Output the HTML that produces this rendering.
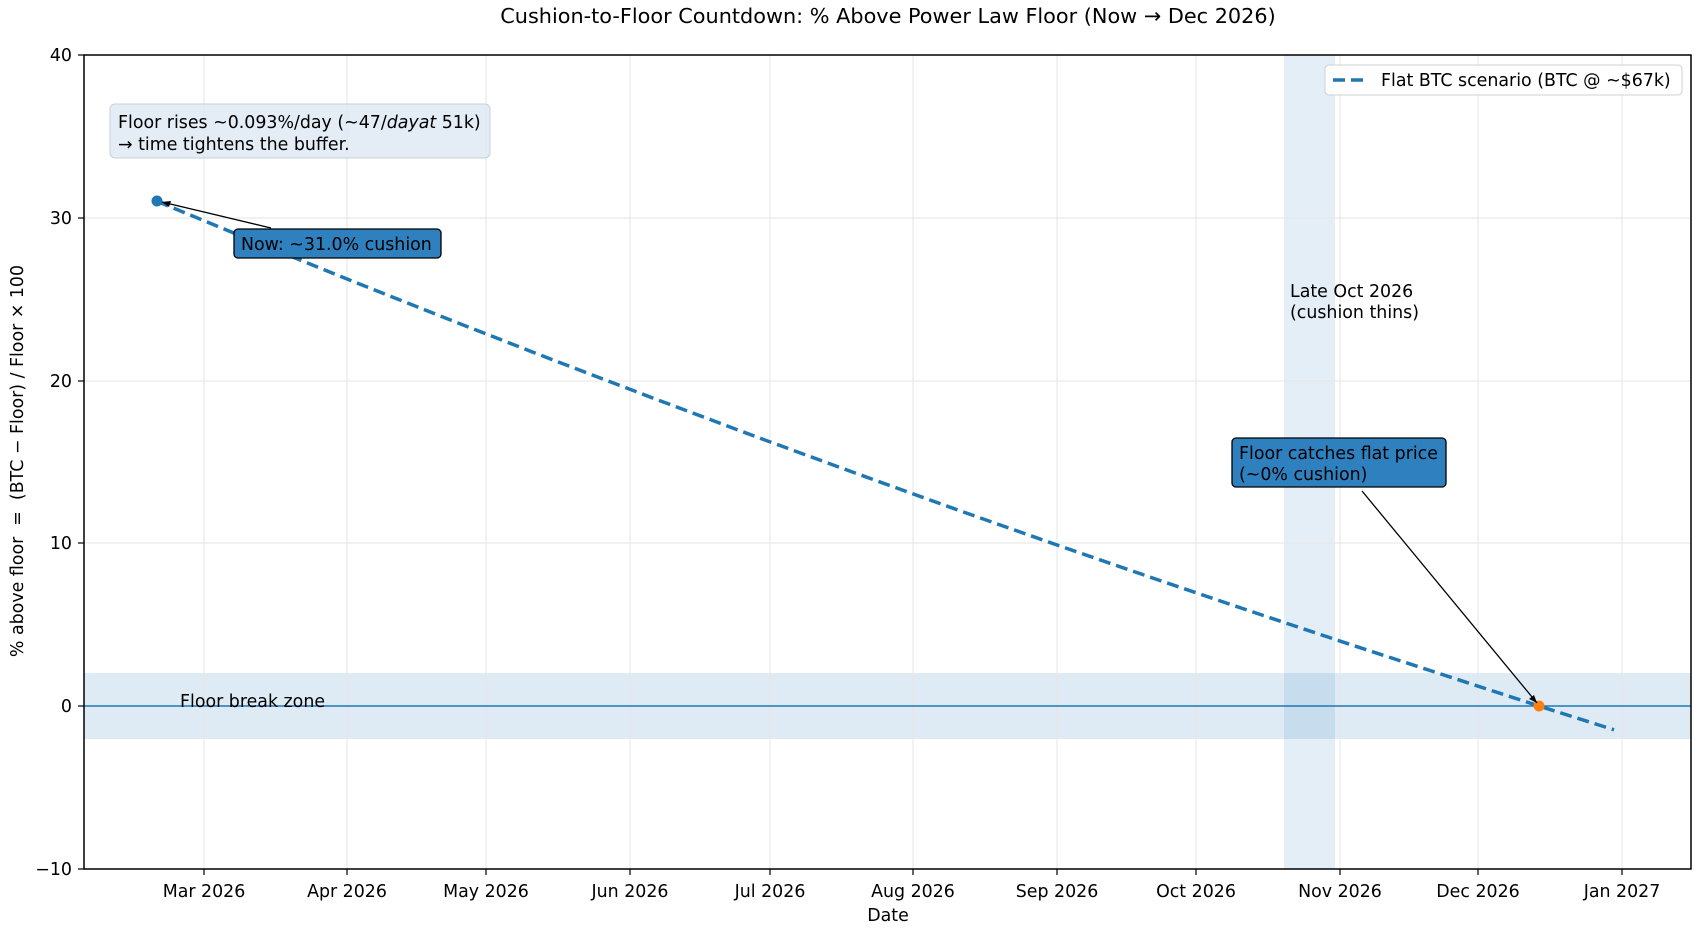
<!DOCTYPE html>
<html><head><meta charset="utf-8"><style>
html,body{margin:0;padding:0;background:#fff;}
svg text{font-family:"DejaVu Sans","Liberation Sans",sans-serif;fill:#000;}
</style></head><body>
<svg width="1702" height="935" viewBox="0 0 1702 935" xmlns="http://www.w3.org/2000/svg">
<rect width="1702" height="935" fill="#fff"/>
<text x="888" y="23" font-size="20.8" text-anchor="middle">Cushion-to-Floor Countdown: % Above Power Law Floor (Now → Dec 2026)</text>
<rect x="1284" y="55" width="51" height="814" fill="#1f77b4" fill-opacity="0.12"/>
<rect x="84" y="673" width="1607" height="66" fill="#1f77b4" fill-opacity="0.15"/>
<g stroke="#e6e6e6" stroke-width="1">
<line x1="204" y1="55" x2="204" y2="869"/><line x1="347" y1="55" x2="347" y2="869"/>
<line x1="486" y1="55" x2="486" y2="869"/><line x1="630" y1="55" x2="630" y2="869"/>
<line x1="770" y1="55" x2="770" y2="869"/><line x1="913" y1="55" x2="913" y2="869"/>
<line x1="1057" y1="55" x2="1057" y2="869"/><line x1="1196" y1="55" x2="1196" y2="869"/>
<line x1="1340" y1="55" x2="1340" y2="869"/><line x1="1478" y1="55" x2="1478" y2="869"/>
<line x1="1622" y1="55" x2="1622" y2="869"/>
<line x1="84" y1="218" x2="1691" y2="218"/><line x1="84" y1="381" x2="1691" y2="381"/>
<line x1="84" y1="543" x2="1691" y2="543"/>
</g>
<line x1="84" y1="706" x2="1691" y2="706" stroke="#1f77b4" stroke-width="1.5"/>
<polyline fill="none" stroke="#1f77b4" stroke-width="3.5" stroke-dasharray="12,6"
 points="157,201.3 257,242.6 357,283.0 457,322.6 557,361.5 657,399.6 757,437.1 857,473.7 957,509.7 1057,545.0 1157,579.5 1257,613.4 1357,646.7 1457,679.3 1539,706 1614,729.8"/>
<circle cx="157" cy="201" r="5.5" fill="#1f77b4"/>
<circle cx="1539" cy="706" r="5.5" fill="#ff7f0e"/>
<rect x="84" y="55" width="1607" height="814" fill="none" stroke="#000" stroke-width="1.5"/>
<g stroke="#000" stroke-width="1.2">
<line x1="204" y1="869" x2="204" y2="875"/><line x1="347" y1="869" x2="347" y2="875"/>
<line x1="486" y1="869" x2="486" y2="875"/><line x1="630" y1="869" x2="630" y2="875"/>
<line x1="770" y1="869" x2="770" y2="875"/><line x1="913" y1="869" x2="913" y2="875"/>
<line x1="1057" y1="869" x2="1057" y2="875"/><line x1="1196" y1="869" x2="1196" y2="875"/>
<line x1="1340" y1="869" x2="1340" y2="875"/><line x1="1478" y1="869" x2="1478" y2="875"/>
<line x1="1622" y1="869" x2="1622" y2="875"/>
<line x1="78" y1="55" x2="84" y2="55"/><line x1="78" y1="218" x2="84" y2="218"/>
<line x1="78" y1="381" x2="84" y2="381"/><line x1="78" y1="543" x2="84" y2="543"/>
<line x1="78" y1="706" x2="84" y2="706"/><line x1="78" y1="869" x2="84" y2="869"/>
</g>
<g font-size="17.4" text-anchor="middle">
<text x="204" y="897">Mar 2026</text><text x="347" y="897">Apr 2026</text>
<text x="486" y="897">May 2026</text><text x="630" y="897">Jun 2026</text>
<text x="770" y="897">Jul 2026</text><text x="913" y="897">Aug 2026</text>
<text x="1057" y="897">Sep 2026</text><text x="1196" y="897">Oct 2026</text>
<text x="1340" y="897">Nov 2026</text><text x="1478" y="897">Dec 2026</text>
<text x="1622" y="897">Jan 2027</text>
</g>
<g font-size="17.4" text-anchor="end">
<text x="72" y="61">40</text><text x="72" y="224">30</text><text x="72" y="387">20</text>
<text x="72" y="549">10</text><text x="72" y="712">0</text><text x="72" y="875">−10</text>
</g>
<text x="888" y="921" font-size="17.4" text-anchor="middle">Date</text>
<text transform="translate(23,461) rotate(-90)" font-size="17.4" text-anchor="middle" xml:space="preserve">% above floor  =  (BTC − Floor) / Floor × 100</text>
<rect x="110" y="104" width="380" height="54" rx="5" fill="#dfe9f3" fill-opacity="0.85" stroke="#c8d0d8"/>
<text x="118" y="128" font-size="17.4">Floor rises ~0.093%/day (~47/<tspan font-style="italic">dayat</tspan> 51k)</text>
<text x="118" y="150" font-size="17.4">→ time tightens the buffer.</text>
<line x1="271" y1="228" x2="162" y2="202" stroke="#000" stroke-width="1.3"/>
<path d="M162,202 l9,-1 l-2,6 z" fill="#000"/>
<rect x="234" y="229" width="207" height="29" rx="4" fill="#2f80bf" stroke="#000" stroke-width="1.3"/>
<text x="241" y="250" font-size="17.4">Now: ~31.0% cushion</text>
<line x1="1362" y1="491" x2="1537" y2="703" stroke="#000" stroke-width="1.3"/>
<path d="M1537,703 l-8,-4 l5,-4 z" fill="#000"/>
<rect x="1232" y="438" width="214" height="49" rx="4" fill="#2f80bf" stroke="#000" stroke-width="1.3"/>
<text x="1239" y="459" font-size="17.4">Floor catches flat price</text>
<text x="1239" y="480" font-size="17.4">(~0% cushion)</text>
<text x="1290" y="297" font-size="17.4">Late Oct 2026</text>
<text x="1290" y="318" font-size="17.4">(cushion thins)</text>
<text x="180" y="707" font-size="17.4">Floor break zone</text>
<rect x="1325" y="65" width="357" height="30" rx="4" fill="#fff" fill-opacity="0.9" stroke="#d0d0d0"/>
<line x1="1333" y1="80" x2="1363" y2="80" stroke="#1f77b4" stroke-width="3.5" stroke-dasharray="12,6"/>
<text x="1381" y="86" font-size="17.4">Flat BTC scenario (BTC @ ~$67k)</text>
</svg>
</body></html>
